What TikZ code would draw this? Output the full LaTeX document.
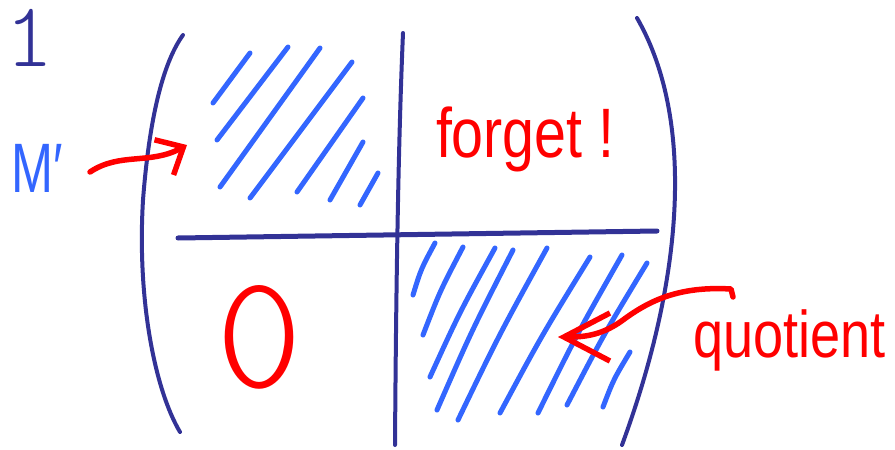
\documentclass[tikz,border=0pt]{standalone}
\usepackage{fontspec}
\setmainfont{Liberation Sans}
\newfontfamily\handn[FakeStretch=0.82]{Liberation Sans}
\newfontfamily\handm[FakeStretch=0.72]{Liberation Sans}
\newfontfamily\lmml{lmmonolt10-regular.otf}
\usetikzlibrary{arrows.meta,calc}
\definecolor{navy}{RGB}{50,50,150}
\definecolor{hatch}{RGB}{51,102,255}
\definecolor{pen}{RGB}{255,0,0}
\tikzset{
  frame/.style={navy,line width=4pt,line cap=round},
  hatchline/.style={hatch,line width=5pt,line cap=round},
  redpen/.style={pen,line width=5.5pt,line cap=round,line join=round},
  label/.style={inner sep=0pt,outer sep=0pt}
}
\begin{document}
\begin{tikzpicture}[x=1pt,y=-1pt]
\useasboundingbox (0,0) rectangle (895,450);
% "1"
\node[label,navy,anchor=base,text height=56pt,text depth=0pt,font=\lmml\fontsize{92}{92}\selectfont] (one) at (30,66) {1};
% parentheses
\draw[frame] (183,35) .. controls (165,60) and (150,110) .. (143,200) .. controls (137,300) and (155,390) .. (180,432);
\draw[frame] (637,18) .. controls (690,110) and (690,260) .. (622,445);
% dividing lines
\draw[frame] (403,33) .. controls (398,150) and (396,300) .. (395,445);
\draw[navy,line width=5pt,line cap=round] (178,238) -- (657,231);
% hatching top-left
\foreach \a/\b/\c/\d in {213/103/250/53, 217/140/288/47, 220/187/320/48, 250/198/352/62, 297/192/363/98, 330/200/363/142, 360/205/378/173}
  \draw[hatchline] (\a,\b) -- (\c,\d);
% hatching bottom-right
\foreach \a/\b/\c/\d in {413/295/435/243, 423/335/463/247, 430/377/495/248, 437/410/513/250, 458/420/547/248, 500/413/590/257, 538/413/622/255, 567/405/647/263, 603/407/630/352}
  \draw[hatchline] (\a,\b) .. controls ($(\a,\b)!0.5!(\c,\d)+(-3,0)$) .. (\c,\d);
% labels
\node[label,hatch,anchor=base west,font=\handm\fontsize{70}{70}\selectfont] (Mp) at (12,192) {M′};
\node[label,pen,anchor=base west,font=\handn\fontsize{70}{70}\selectfont] (forget) at (436,157) {forget !};
\node[label,pen,anchor=base west,font=\handn\fontsize{66}{66}\selectfont] (quot) at (693,357) {quotient};
\node[label,pen,anchor=base,font=\lmml\fontsize{164}{164}\selectfont] (zero) at (260,387) {0};
% arrows
\coordinate (mstart) at (90,172);
\coordinate (mtip) at (187,145);
\draw[redpen,-{Straight Barb[length=22pt,width=40pt,line width=5.5pt]}] (mstart) .. controls (120,152) and (150,165) .. (mtip);
\coordinate (qstart) at (733,297);
\coordinate (qtip) at (558,337);
\draw[redpen,-{Straight Barb[length=46pt,width=48pt,line width=5.5pt]}] (qstart) -- (731,289) .. controls (680,286) and (650,300) .. (623,320) .. controls (600,337) and (580,337) .. (qtip);
\end{tikzpicture}
\end{document}
